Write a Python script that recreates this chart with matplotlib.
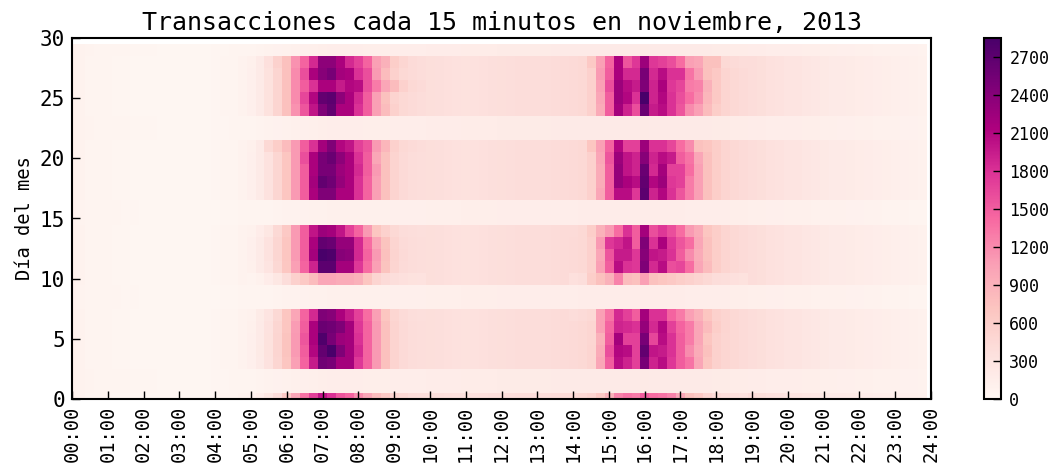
import numpy as np
import matplotlib
matplotlib.use('Agg')
import matplotlib.pyplot as plt

plt.rcParams['font.family'] = ['DejaVu Sans Mono', 'DejaVu Sans']

# ---------------- data (transactions per 15-minute slot) ----------------
hour_labels = ['%02d:00' % h for h in range(25)]
days = list(range(1, 31))  # November 1..30, 2013

# day kind: W = working day, A / B = weekend profiles
day_kind = ['W', 'A', 'A', 'W', 'W', 'W', 'W', 'W', 'B', 'B',
            'W', 'W', 'W', 'W', 'W', 'B', 'B', 'W', 'W', 'W',
            'W', 'W', 'A', 'A', 'W', 'W', 'W', 'W', 'W', 'A']

# working-day off-peak segments
weekday_night = [90, 70, 55, 45, 35, 30, 25, 20, 20, 15, 15, 15, 15, 15, 20, 20, 30, 40, 55, 75]          # 00:00-04:45
weekday_midday = [370, 360, 350, 340, 330, 340, 350, 360, 370, 380, 390, 395, 400, 400, 410, 420]        # 10:00-13:45
weekday_evening = [390, 370, 340, 320, 300, 280, 260, 240, 220, 200, 190, 180, 170, 160, 150, 140,
                   130, 120, 110, 100]                                                                  # 19:00-23:45

# morning peak 05:00-09:45 per working day
morning = {
    1:  [80, 150, 250, 400, 650, 1000, 1350, 1700, 2000, 1800, 1550, 1450, 1200, 1000, 800, 650, 500, 450, 400, 380],
    4:  [120, 200, 320, 480, 700, 1050, 1450, 1950, 2550, 2500, 2200, 2200, 1750, 1450, 1100, 750, 520, 430, 400, 380],
    5:  [120, 210, 330, 500, 720, 1100, 1500, 2100, 2650, 2850, 2450, 2200, 1850, 1450, 1100, 750, 520, 430, 400, 380],
    6:  [120, 200, 330, 500, 720, 1100, 1550, 2150, 2800, 2500, 2250, 2200, 1800, 1450, 1100, 750, 520, 430, 400, 380],
    7:  [110, 200, 320, 480, 700, 1080, 1500, 2150, 2600, 2550, 2450, 2200, 1750, 1450, 1100, 750, 520, 430, 400, 380],
    8:  [100, 180, 300, 450, 700, 1000, 1450, 1850, 2450, 2400, 2150, 1950, 1700, 1400, 1050, 700, 480, 420, 380, 360],
    11: [60, 100, 160, 250, 400, 550, 650, 800, 1000, 1000, 950, 950, 900, 700, 500, 420, 380, 350, 330, 320],
    12: [110, 190, 300, 460, 680, 1050, 1450, 1900, 2700, 2700, 2200, 2200, 1750, 1400, 1050, 720, 500, 420, 400, 380],
    13: [120, 200, 320, 480, 700, 1100, 1500, 2200, 2850, 2800, 2400, 2350, 1850, 1450, 1100, 750, 520, 430, 400, 380],
    14: [120, 200, 320, 480, 700, 1100, 1500, 2150, 2650, 2600, 2300, 2300, 1850, 1400, 1000, 720, 500, 420, 400, 380],
    15: [100, 160, 250, 450, 650, 1100, 1500, 2000, 2250, 2200, 2000, 1700, 1450, 1100, 700, 550, 450, 400, 380, 360],
    18: [120, 200, 320, 480, 700, 1100, 1500, 2150, 2450, 2450, 2150, 2150, 1800, 1450, 1050, 750, 520, 430, 400, 380],
    19: [120, 200, 320, 480, 700, 1100, 1500, 2200, 2650, 2550, 2300, 2150, 1800, 1450, 1050, 750, 520, 430, 400, 380],
    20: [120, 200, 320, 480, 700, 1100, 1500, 2150, 2500, 2500, 2250, 2150, 1850, 1500, 1100, 750, 520, 430, 400, 380],
    21: [120, 200, 320, 480, 700, 1100, 1600, 2150, 2500, 2600, 2350, 2150, 1800, 1500, 1000, 750, 520, 430, 400, 380],
    22: [110, 200, 450, 600, 800, 1100, 1500, 1800, 2200, 2450, 2100, 2000, 1700, 1550, 1100, 850, 550, 450, 420, 400],
    25: [120, 200, 330, 500, 750, 1150, 1550, 2000, 2450, 2650, 2150, 2150, 1800, 1500, 1050, 800, 550, 450, 420, 400],
    26: [120, 200, 330, 500, 750, 1200, 1650, 2100, 2650, 2700, 2350, 2150, 1850, 1500, 1050, 750, 520, 450, 420, 400],
    27: [120, 200, 330, 500, 750, 1200, 1500, 1800, 2150, 2150, 1950, 2100, 2050, 1600, 1300, 1000, 800, 550, 450, 420],
    28: [120, 200, 330, 500, 750, 1200, 1600, 2150, 2400, 2500, 2200, 2150, 1800, 1600, 1100, 800, 550, 450, 420, 400],
    29: [110, 200, 350, 550, 750, 1150, 1450, 1850, 2350, 2350, 2150, 1850, 1700, 1450, 1050, 900, 600, 480, 420, 400],
}

# afternoon peak 14:00-18:45 per working day
afternoon = {
    1:  [420, 450, 500, 650, 900, 1250, 1350, 1300, 1500, 1400, 1350, 1250, 1000, 750, 650, 500, 420, 380, 350, 320],
    4:  [430, 450, 500, 1000, 1500, 2050, 1900, 1700, 2500, 1900, 2050, 1750, 1500, 1350, 1000, 700, 550, 480, 450, 420],
    5:  [430, 450, 500, 950, 1600, 2100, 2050, 1700, 2650, 2000, 1950, 1800, 1500, 1200, 950, 750, 550, 480, 450, 420],
    6:  [430, 450, 480, 900, 1500, 2200, 1700, 1700, 2500, 1650, 2050, 1800, 1500, 1300, 1000, 700, 550, 480, 450, 420],
    7:  [430, 450, 480, 1050, 1450, 1900, 1850, 1800, 2300, 1850, 2100, 1700, 1450, 1300, 1000, 800, 600, 500, 450, 420],
    8:  [400, 420, 450, 1050, 1350, 1850, 1700, 1500, 2200, 1800, 1800, 1450, 1300, 1050, 900, 700, 550, 500, 450, 420],
    11: [350, 380, 600, 750, 900, 1250, 800, 750, 1050, 750, 700, 650, 600, 550, 500, 450, 400, 380, 350, 330],
    12: [430, 450, 550, 1050, 1500, 2050, 1800, 1750, 2450, 1850, 2050, 1600, 1650, 1400, 1000, 800, 600, 500, 450, 420],
    13: [430, 450, 550, 1000, 1550, 1950, 1950, 1750, 2400, 2000, 1950, 1800, 1500, 1200, 950, 750, 600, 500, 450, 420],
    14: [430, 450, 550, 1100, 1750, 1850, 2000, 1500, 2450, 1800, 2150, 1750, 1550, 1400, 1000, 750, 600, 500, 450, 420],
    15: [420, 450, 600, 900, 1100, 1400, 1800, 1500, 2200, 1600, 1750, 1600, 1400, 1100, 950, 700, 600, 500, 450, 420],
    18: [430, 450, 550, 1000, 1500, 2050, 2050, 1750, 2700, 1900, 2100, 1800, 1550, 1300, 1050, 750, 600, 500, 450, 420],
    19: [430, 450, 550, 950, 1500, 2300, 2150, 2050, 2650, 2100, 2250, 1750, 1700, 1300, 1050, 750, 600, 500, 450, 420],
    20: [430, 450, 550, 950, 1500, 2300, 2000, 1900, 2600, 1850, 2200, 1700, 1700, 1400, 1050, 750, 600, 500, 450, 420],
    21: [430, 450, 550, 1000, 1550, 2250, 2000, 1900, 2400, 1900, 2050, 1950, 1500, 1350, 1000, 750, 600, 500, 450, 420],
    22: [430, 450, 700, 1050, 1450, 2100, 1700, 1700, 2250, 1800, 1800, 1650, 1400, 1200, 750, 700, 600, 500, 450, 420],
    25: [430, 450, 550, 950, 1500, 2200, 1900, 1600, 2600, 1950, 2050, 1800, 1550, 1200, 1050, 800, 600, 500, 450, 420],
    26: [430, 450, 550, 1000, 1500, 2250, 2100, 1800, 2850, 1900, 2100, 1800, 1600, 1400, 1200, 850, 650, 500, 450, 420],
    27: [430, 450, 550, 1050, 1600, 2250, 2050, 1950, 2450, 1900, 2150, 1750, 1650, 1300, 1250, 900, 650, 500, 450, 420],
    28: [430, 450, 550, 1100, 1500, 2150, 1850, 1850, 2500, 1850, 2050, 1800, 1800, 1350, 1100, 750, 650, 500, 450, 420],
    29: [430, 450, 650, 1050, 1450, 2150, 1550, 1750, 2250, 1750, 1700, 1600, 1400, 1050, 1000, 750, 750, 450, 420, 400],
}

# weekend profiles (00:00-23:45)
weekend_a = [90, 70, 60, 50, 45, 40, 35, 30, 25, 25, 20, 20, 20, 20, 20, 20, 25, 30, 35, 45,
             55, 65, 75, 85, 95, 105, 115, 125, 140, 150, 150, 150, 145, 140, 140, 140, 145, 150, 150, 155,
             160, 160, 165, 165, 170, 170, 175, 175, 180, 180, 180, 185, 185, 185, 190, 190,
             190, 195, 195, 200, 200, 200, 200, 200, 205, 200, 200, 200, 195, 195, 190, 190, 185, 180, 175, 170,
             165, 160, 155, 150, 150, 145, 140, 135, 130, 125, 120, 115, 110, 105, 100, 95, 90, 85, 80, 75]
weekend_b = [80, 60, 50, 45, 40, 35, 30, 25, 20, 20, 20, 15, 15, 15, 15, 20, 20, 25, 30, 35,
             40, 45, 50, 60, 70, 75, 80, 90, 100, 105, 110, 110, 110, 110, 110, 110, 115, 115, 120, 120,
             125, 125, 130, 130, 135, 135, 140, 140, 145, 145, 150, 150, 150, 150, 155, 155,
             155, 160, 160, 160, 165, 165, 165, 165, 165, 165, 160, 160, 160, 155, 155, 150, 150, 145, 140, 135,
             130, 125, 120, 115, 110, 110, 105, 100, 95, 90, 90, 85, 80, 75, 70, 65, 60, 60, 55, 50]

# ---------------- assemble table ----------------
table = []
for d, kind in zip(days, day_kind):
    if kind == 'W':
        table.append(weekday_night + morning[d] + weekday_midday + afternoon[d] + weekday_evening)
    elif kind == 'A':
        table.append(list(weekend_a))
    else:
        table.append(list(weekend_b))
data = np.array(table, dtype=float)

# ---------------- plot ----------------
W, H = 1055, 473
fig = plt.figure(figsize=(W / 100, H / 100), dpi=100)
ax = fig.add_axes([72 / W, (H - 399) / H, (931 - 72) / W, (399 - 38) / H])
cax = fig.add_axes([984 / W, (H - 399) / H, 17 / W, (399 - 38) / H])

im = ax.imshow(data, origin='lower', aspect='auto', cmap='RdPu',
               interpolation='nearest', vmin=0, vmax=data.max())
ax.set_xlim(0, 96)
ax.set_ylim(0, 30)
ax.set_xticks(range(0, 97, 4))
ax.set_xticklabels(hour_labels, rotation=90, fontsize=13.5)
ax.set_yticks(range(0, 31, 5))
ax.tick_params(axis='y', labelsize=15)
ax.tick_params(direction='in', length=6, width=1, top=False, right=False, pad=5)
for s in ax.spines.values():
    s.set_linewidth(1.5)
ax.set_ylabel('Día del mes', fontsize=13.5)
ax.set_title('Transacciones cada 15 minutos en noviembre, 2013', fontsize=18, pad=6)

cb = fig.colorbar(im, cax=cax, ticks=list(range(0, 2701, 300)))
cb.ax.tick_params(direction='in', length=6, width=1, labelsize=12, pad=6)
cb.outline.set_linewidth(1.5)

fig.savefig('out.png', dpi=100)
